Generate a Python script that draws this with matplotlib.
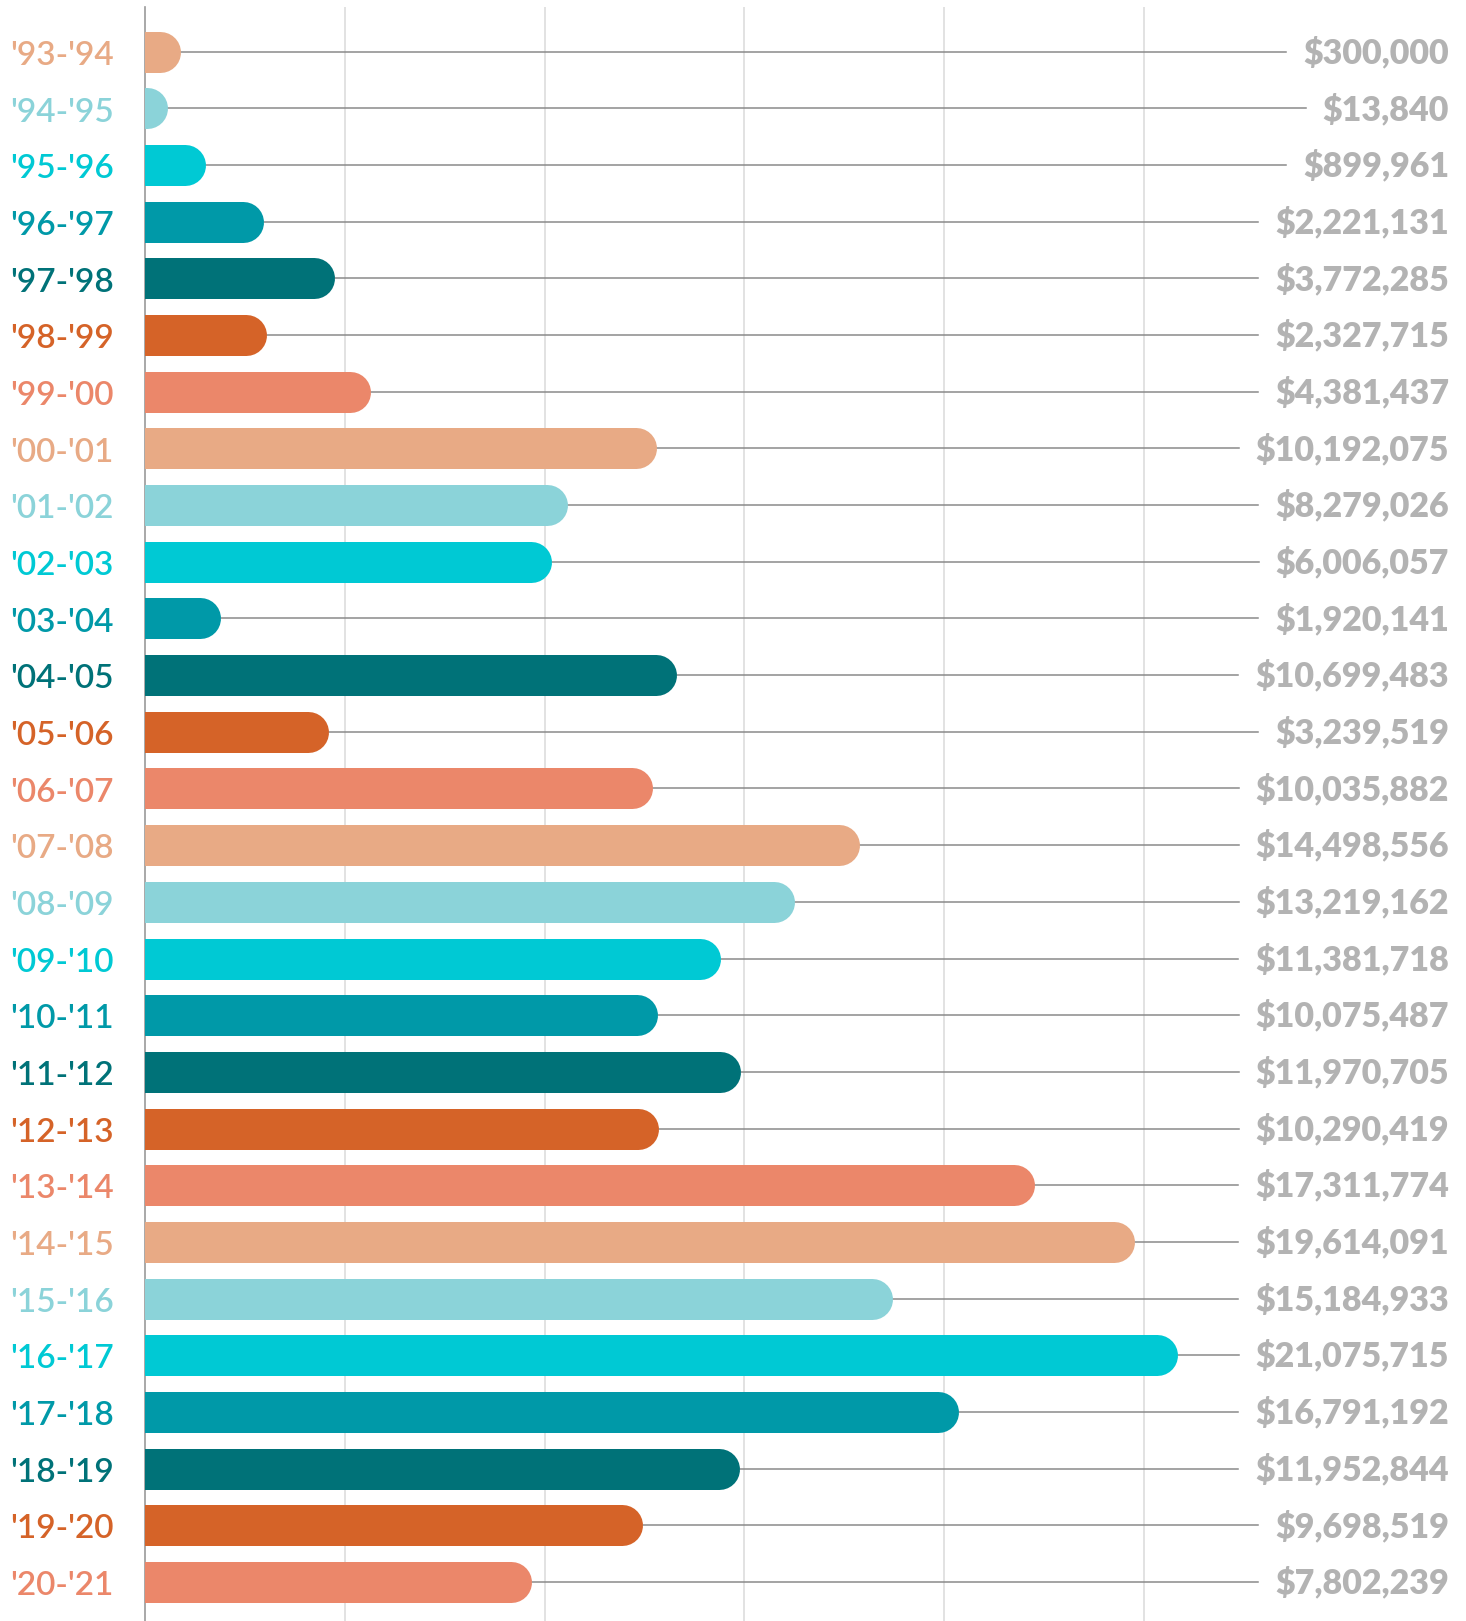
import matplotlib
matplotlib.use('Agg')
import matplotlib.pyplot as plt

# season labels, printed amounts ($) and bar lengths as drawn ($M)
seasons = ["'93-'94", "'94-'95", "'95-'96", "'96-'97", "'97-'98", "'98-'99", "'99-'00",
           "'00-'01", "'01-'02", "'02-'03", "'03-'04", "'04-'05", "'05-'06", "'06-'07",
           "'07-'08", "'08-'09", "'09-'10", "'10-'11", "'11-'12", "'12-'13", "'13-'14",
           "'14-'15", "'15-'16", "'16-'17", "'17-'18", "'18-'19", "'19-'20", "'20-'21"]
amounts = [300000, 13840, 899961, 2221131, 3772285, 2327715, 4381437,
           10192075, 8279026, 6006057, 1920141, 10699483, 3239519, 10035882,
           14498556, 13219162, 11381718, 10075487, 11970705, 10290419, 17311774,
           19614091, 15184933, 21075715, 16791192, 11952844, 9698519, 7802239]
bar_len = [0.32, 0.04, 0.84, 2.04, 3.52, 2.10, 4.28,
           10.23, 8.37, 8.05, 1.15, 10.64, 3.40, 10.14,
           14.45, 13.11, 11.57, 10.24, 11.97, 10.27, 18.10,
           20.18, 15.15, 21.08, 16.53, 11.95, 9.94, 7.63]

palette = ['#E8AA85', '#8BD3D9', '#00C9D4', '#0099A8', '#007278', '#D56328', '#EB876A']

W, H, dpi = 1466, 1621, 100
x0 = 145
fig = plt.figure(figsize=(W / dpi, H / dpi), dpi=dpi)
ax = fig.add_axes([x0 / W, 0, 1 - x0 / W, 1 - 7 / H])

px_per_m = 48.0
ax.set_xlim(0, (W - x0) / px_per_m)
ax.set_ylim(27.69, -0.79)

bar_lw = 41 * 72 / dpi  # bar thickness in points
for i, (s, v) in enumerate(zip(seasons, bar_len)):
    c = palette[i % len(palette)]
    ax.plot([0, v], [i, i], color=c, lw=bar_lw, solid_capstyle='round', zorder=3)
    ax.text(-31 / px_per_m, i + 0.02, s, ha='right', va='center_baseline', color=c,
            fontsize=24, family='Lato', weight='semibold')

# value labels on the right
x_val = (1449 - x0) / px_per_m
labels = []
for i, v in enumerate(amounts):
    t = ax.text(x_val, i - 0.03, '${:,}'.format(v), ha='right', va='center_baseline',
                color='#B3B3B3', fontsize=24.5, family='Lato', weight='heavy', zorder=4)
    labels.append(t)

# leader lines up to each value label
fig.canvas.draw()
r = fig.canvas.get_renderer()
inv = ax.transData.inverted()
for i, t in enumerate(labels):
    bb = t.get_window_extent(r)
    x_end = inv.transform((bb.x0 - 17, 0))[0]
    ax.plot([0, x_end], [i, i], color='#8A8A8A', lw=1.1, zorder=2)

grid_step = 199.8 / px_per_m
for k in range(1, 6):
    ax.axvline(k * grid_step, color='#DDDDDD', lw=1.2, zorder=1)

for sp in ['top', 'right', 'bottom']:
    ax.spines[sp].set_visible(False)
ax.spines['left'].set_color('#9A9A9A')
ax.spines['left'].set_linewidth(1.2)
ax.set_xticks([])
ax.set_yticks([])

fig.savefig('out.png', dpi=dpi)
